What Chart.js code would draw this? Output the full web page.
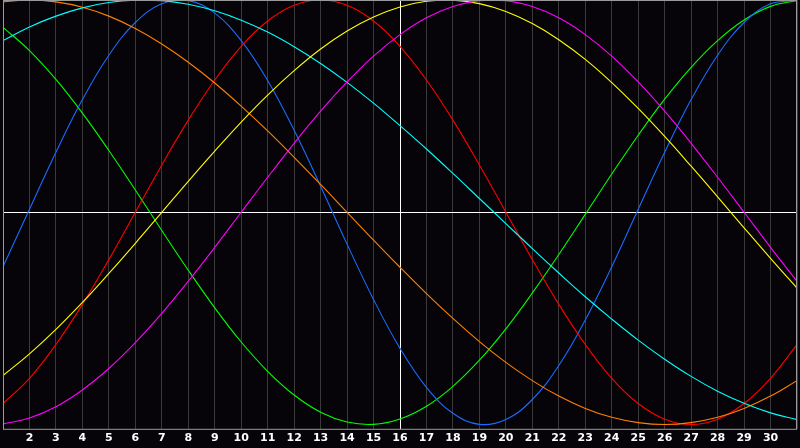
<!DOCTYPE html>
<html lang="en">

<head>
    <meta charset="UTF-8">
    <title>Biorhythm</title>
    <script src="https://cdn.jsdelivr.net/npm/chart.js"></script>
    <style>
        body { margin: 0; background: #060408; }
        #wrap { width: 800px; height: 448px; }
    </style>
</head>

<body>
    <div id="wrap">
        <canvas id="myChart" width="800" height="448"></canvas>
    </div>

    <script>
        // days of the month shown on the x axis
        const days = [1, 2, 3, 4, 5, 6, 7, 8, 9, 10, 11, 12, 13, 14, 15, 16, 17, 18, 19, 20, 21, 22, 23, 24, 25, 26, 27, 28, 29, 30, 31];

        // cycle values per day (-1 .. 1)
        const physical = [-0.257, 0.014, 0.283, 0.531, 0.740, 0.894, 0.982, 0.997, 0.938, 0.809, 0.621, 0.386, 0.123, -0.150, -0.411, -0.641, -0.825, -0.947, -0.999, -0.976, -0.882, -0.722, -0.508, -0.257, 0.014, 0.283, 0.531, 0.740, 0.894, 0.982, 0.997];
        const emotional = [-0.901, -0.782, -0.623, -0.434, -0.223, 0.000, 0.223, 0.434, 0.623, 0.782, 0.901, 0.975, 1.000, 0.975, 0.901, 0.782, 0.623, 0.434, 0.223, 0.000, -0.223, -0.434, -0.623, -0.782, -0.901, -0.975, -1.000, -0.975, -0.901, -0.782, -0.623];
        const intellectual = [0.871, 0.762, 0.626, 0.467, 0.291, 0.105, -0.086, -0.273, -0.450, -0.611, -0.749, -0.861, -0.942, -0.988, -0.999, -0.974, -0.914, -0.820, -0.697, -0.549, -0.380, -0.199, -0.010, 0.180, 0.363, 0.533, 0.683, 0.809, 0.906, 0.970, 0.998];
        const intuitive = [-0.997, -0.969, -0.916, -0.837, -0.736, -0.614, -0.476, -0.325, -0.165, 0.000, 0.165, 0.325, 0.476, 0.614, 0.736, 0.837, 0.916, 0.969, 0.997, 0.997, 0.969, 0.916, 0.837, 0.736, 0.614, 0.476, 0.325, 0.165, 0.000, -0.165, -0.325];
        const aesthetic = [-0.769, -0.667, -0.552, -0.425, -0.288, -0.146, 0.000, 0.146, 0.288, 0.425, 0.552, 0.667, 0.769, 0.854, 0.920, 0.967, 0.994, 0.999, 0.983, 0.946, 0.889, 0.813, 0.720, 0.611, 0.489, 0.357, 0.217, 0.073, -0.073, -0.217, -0.357];
        const awareness = [0.991, 1.000, 0.991, 0.966, 0.924, 0.866, 0.793, 0.707, 0.609, 0.500, 0.383, 0.259, 0.131, 0.000, -0.131, -0.259, -0.383, -0.500, -0.609, -0.707, -0.793, -0.866, -0.924, -0.966, -0.991, -1.000, -0.991, -0.966, -0.924, -0.866, -0.793];
        const spiritual = [0.809, 0.873, 0.924, 0.963, 0.988, 0.999, 0.997, 0.980, 0.949, 0.905, 0.849, 0.780, 0.701, 0.612, 0.514, 0.408, 0.298, 0.183, 0.065, -0.053, -0.171, -0.286, -0.398, -0.503, -0.602, -0.692, -0.773, -0.843, -0.900, -0.945, -0.977];

        const today = 16;

        function pts(values) {
            return days.map((d, i) => ({ x: d, y: values[i] }));
        }

        function line(label, values, color) {
            return {
                label: label,
                data: pts(values),
                borderColor: color,
                borderWidth: 1.1,
                pointRadius: 0,
                tension: 0.4,
                fill: false
            };
        }

        // black background + grey frame round the plot
        const frame = {
            id: 'frame',
            beforeDraw(chart) {
                const c = chart.ctx;
                c.save();
                c.fillStyle = '#060408';
                c.fillRect(0, 0, chart.width, chart.height);
                c.restore();
            },
            afterDraw(chart) {
                const a = chart.chartArea;
                const c = chart.ctx;
                c.save();
                c.strokeStyle = '#9a9a9a';
                c.lineWidth = 1;
                c.strokeRect(Math.max(a.left, 0) + 0.5, a.top + 0.5, Math.min(a.right, chart.width) - Math.max(a.left, 0) - 1, a.bottom - a.top);
                c.restore();
            }
        };

        const ctx = document.getElementById('myChart').getContext('2d');

        const myChart = new Chart(ctx, {
            type: 'line',
            data: {
                datasets: [
                    line('Intuitive', intuitive, '#ff00ff'),
                    line('Aesthetic', aesthetic, '#ffff00'),
                    line('Spiritual', spiritual, '#00ffff'),
                    line('Awareness', awareness, '#ff8000'),
                    line('Emotional', emotional, '#ff0000'),
                    line('Physical', physical, '#1a6cff'),
                    line('Intellectual', intellectual, '#00ff00')
                ]
            },
            options: {
                responsive: false,
                animation: false,
                layout: { padding: { left: -5, right: -5, top: 0, bottom: 0 } },
                plugins: {
                    legend: { display: false },
                    tooltip: { enabled: false }
                },
                scales: {
                    x: {
                        type: 'linear',
                        min: 1,
                        max: 31,
                        border: { display: false },
                        grid: {
                            drawTicks: false,
                            color: c => c.tick && c.tick.value === today ? '#ffffff' : '#3a3a3a'
                        },
                        ticks: {
                            stepSize: 1,
                            autoSkip: false,
                            maxRotation: 0,
                            padding: 3,
                            color: '#ffffff',
                            font: { family: 'DejaVu Sans', size: 11, weight: 'bold' },
                            callback: v => (v === 1 || v === 31) ? '' : v
                        }
                    },
                    y: {
                        min: -1.02,
                        max: 1,
                        border: { display: false },
                        afterBuildTicks: s => { s.ticks = [{ value: 0 }]; },
                        grid: {
                            drawTicks: false,
                            tickLength: 0,
                            color: '#ffffff'
                        },
                        ticks: { display: false }
                    }
                }
            },
            plugins: [frame]
        });
    </script>
</body>

</html>
